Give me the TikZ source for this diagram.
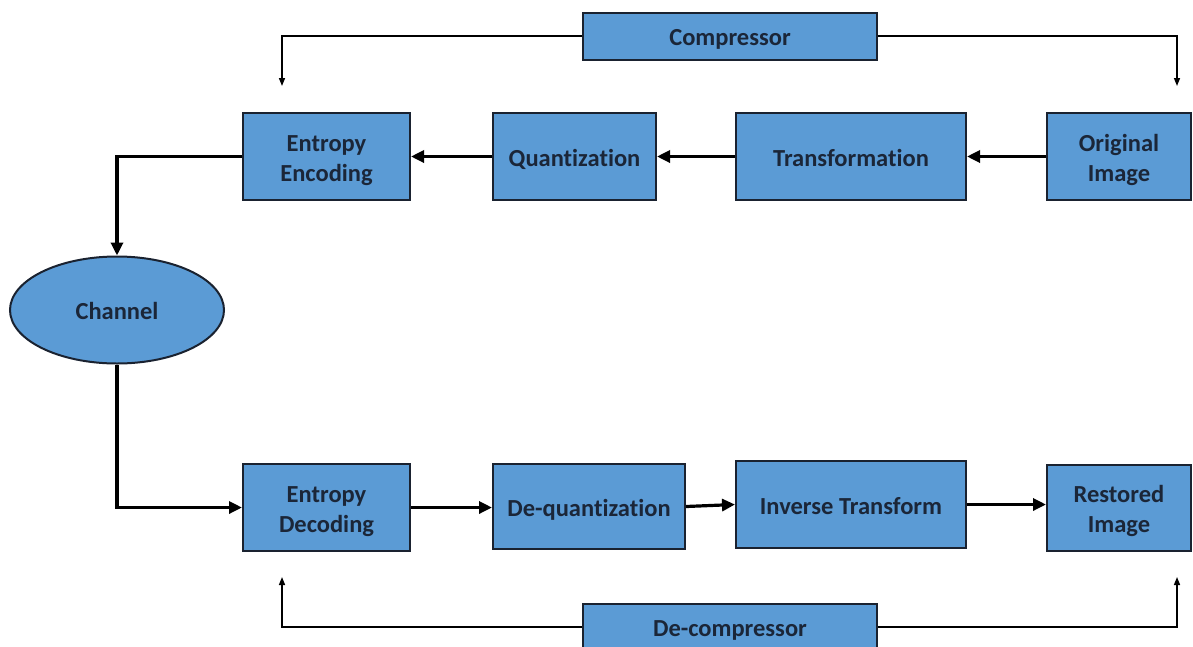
\documentclass[tikz,border=0pt]{standalone}
\usepackage{fontspec}
\setmainfont{Carlito}[Ligatures=NoCommon]
\usetikzlibrary{arrows.meta,shapes.geometric}
\definecolor{boxblue}{HTML}{5B9BD5}
\definecolor{boxedge}{HTML}{1A2230}
\definecolor{boxtext}{HTML}{1B2638}
% box text, set a little below the geometric centre
\newcommand\boxlabel[1]{\raisebox{-3.5pt}[\height][\depth]{\begin{tabular}{@{}c@{}}#1\end{tabular}}}
\tikzset{
  blk/.style={draw=boxedge, line width=2pt, fill=boxblue, inner sep=0pt,
    text=boxtext, font=\fontsize{24.5}{30}\selectfont\bfseries},
  flow/.style={line width=3.2pt, -{Triangle[length=13pt,width=12pt]}},
  guide/.style={line width=1.5pt, -{Triangle[length=8pt,width=6pt]}}
}
\begin{document}
\begin{tikzpicture}[x=1pt,y=-1pt]
\useasboundingbox (0,0) rectangle (1193,646);
% compression chain
\node[blk, minimum width=294pt, minimum height=47pt] (comp) at (730,36) {\boxlabel{Compressor}};
\node[blk, minimum width=167pt, minimum height=87pt] (enc) at (326.5,156.5) {\boxlabel{Entropy\\Encoding}};
\node[blk, minimum width=163pt, minimum height=87pt] (quant) at (574.5,156.5) {\boxlabel{Quantization}};
\node[blk, minimum width=230pt, minimum height=87pt] (trans) at (851,156.5) {\boxlabel{Transformation}};
\node[blk, minimum width=144pt, minimum height=87pt] (orig) at (1119,156.5) {\boxlabel{Original\\Image}};
% channel
\node[blk, ellipse, minimum width=214pt, minimum height=107pt] (chan) at (117,310) {\boxlabel{Channel}};
% decompression chain
\node[blk, minimum width=167pt, minimum height=87pt] (dec) at (326.5,507.5) {\boxlabel{Entropy\\Decoding}};
\node[blk, minimum width=192pt, minimum height=85pt] (dequant) at (589,506.5) {\boxlabel{De-quantization}};
\node[blk, minimum width=230pt, minimum height=87pt] (inv) at (851,504.5) {\boxlabel{Inverse Transform}};
\node[blk, minimum width=144pt, minimum height=86pt] (rest) at (1119,508) {\boxlabel{Restored\\Image}};
\node[blk, minimum width=294pt, minimum height=47pt] (decomp) at (730,627) {\boxlabel{De-compressor}};
% free ends of the guide arrows
\coordinate (cl) at (282,86);
\coordinate (cr) at (1177,86);
\coordinate (dl) at (282,577);
\coordinate (dr) at (1177,577);
% guide arrows
\draw[guide] (comp.west) -| (cl);
\draw[guide] (comp.east) -| (cr);
\draw[guide] (decomp.west) -| (dl);
\draw[guide] (decomp.east) -| (dr);
% data flow
\draw[flow] (orig.west) -- (trans.east);
\draw[flow] (trans.west) -- (quant.east);
\draw[flow] (quant.west) -- (enc.east);
\draw[flow] (enc.west) -| (chan.north);
\draw[flow] (chan.south) |- (dec.west);
\draw[flow] (dec.east) -- (dec.east -| dequant.west);
\draw[flow] (dequant.east) -- (inv.west);
\draw[flow] (inv.east) -- (inv.east -| rest.west);
\end{tikzpicture}
\end{document}
